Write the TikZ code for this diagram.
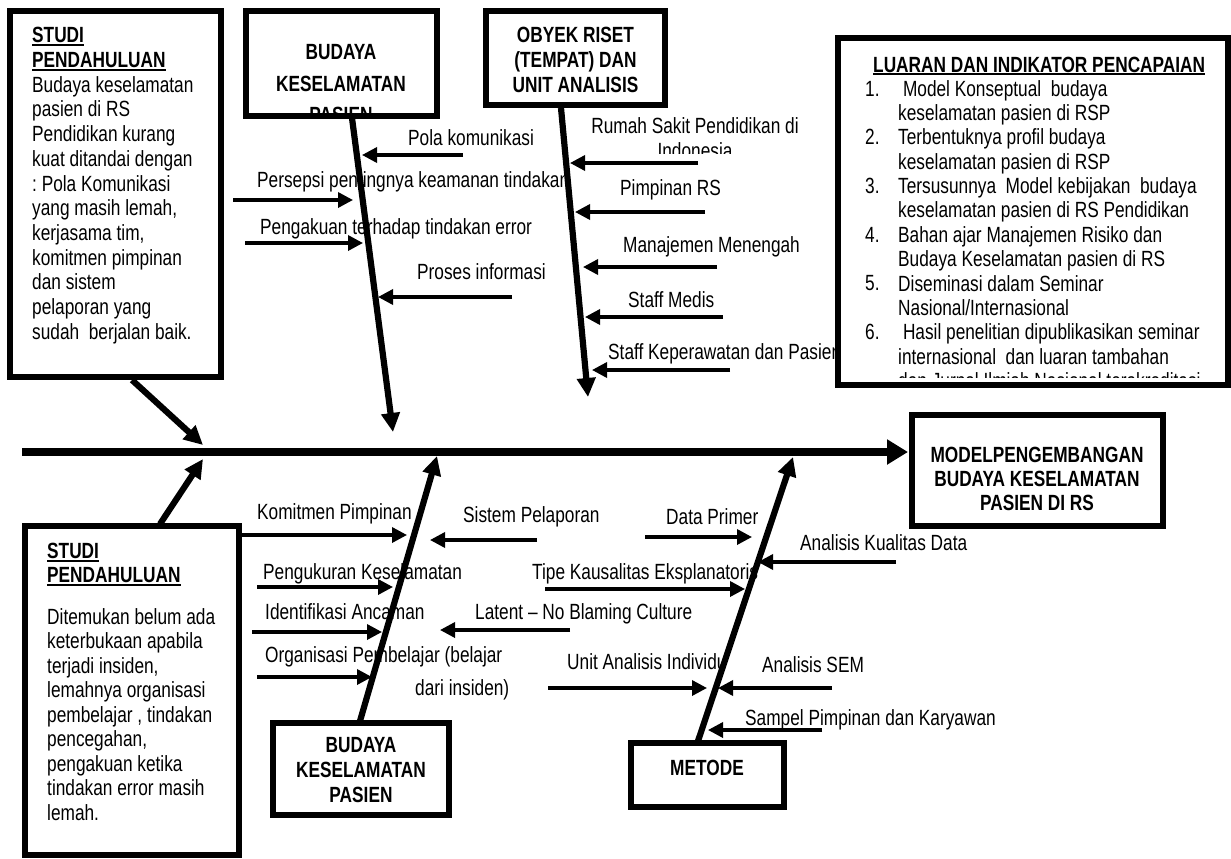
\documentclass[tikz,border=0pt]{standalone}
\usepackage{fontspec}
\setmainfont{Liberation Sans}[FakeStretch=0.785]
\usetikzlibrary{arrows.meta}
\newcommand{\myul}[1]{\setbox0\hbox{#1}\rlap{\rule[-3pt]{\wd0}{1.6pt}}\box0}
\frenchspacing
\begin{document}
\begin{tikzpicture}[x=1pt,y=-1pt,
  lbl/.style={font=\fontsize{22}{24.7}\selectfont, inner sep=0pt, anchor=base west},
  para/.style={inner sep=0pt, anchor=north west, align=left},
  ttl/.style={inner sep=0pt, anchor=north, align=center, font=\bfseries\fontsize{22}{25}\selectfont},
  box/.style={draw, line width=6.3pt, fill=white, inner sep=0pt},
  tarr/.style={line width=3.4pt, -{Triangle[length=15pt,width=15pt]}},
  sarr/.style={line width=6.2pt, -{Triangle[length=19pt,width=18pt]}},
  marr/.style={line width=8.5pt, -{Triangle[length=21pt,width=24pt]}}]
\useasboundingbox[fill=white] (0,0) rectangle (1231,859);

% ---------- labels of the bones ----------
\node[lbl] (lpola) at (408,145.5) {Pola komunikasi};
\begin{scope}
  \clip (250,160) rectangle (563,196);
  \node[lbl] (lpers) at (257,187.5) {Persepsi pentingnya keamanan tindakan};
\end{scope}
\node[lbl] (lpeng) at (260,234.5) {Pengakuan terhadap tindakan error};
\node[lbl] (lpros) at (417,279.5) {Proses informasi};
\begin{scope}
  \clip (580,110) rectangle (820,153);
  \node[inner sep=0pt, anchor=north, align=center, font=\fontsize{22}{25}\selectfont] (lrs) at (695,117.5) {Rumah Sakit Pendidikan di\\Indonesia};
\end{scope}
\node[lbl] (lpim) at (620,195.5) {Pimpinan RS};
\node[lbl] (lman) at (623,252.5) {Manajemen Menengah};
\node[lbl] (lmed) at (628,307.5) {Staff Medis};
\node[lbl] (lkep) at (608,359.5) {Staff Keperawatan dan Pasien};

\node[lbl] (lkom) at (257,519.5) {Komitmen Pimpinan};
\node[lbl] (lukur) at (263,579.5) {Pengukuran Keselamatan};
\node[lbl] (lident) at (265,619.5) {Identifikasi Ancaman};
\node[lbl] (lorg) at (265,662.5) {Organisasi Pembelajar (belajar};
\node[lbl] (lorg2) at (415,695) {dari insiden)};
\node[lbl] (lsis) at (463,522.5) {Sistem Pelaporan};
\node[lbl] (llat) at (475,619.5) {Latent -- No Blaming Culture};
\node[lbl] (ldata) at (666,524.5) {Data Primer};
\node[lbl] (ltipe) at (532,579.5) {Tipe Kausalitas Eksplanatoris};
\begin{scope}
  \clip (560,640) rectangle (727,680);
  \node[lbl] (lunit) at (567,669.5) {Unit Analisis Individu};
\end{scope}
\node[lbl] (lsem) at (762,672.5) {Analisis SEM};
\node[lbl] (lsamp) at (745,725.5) {Sampel Pimpinan dan Karyawan};
\node[lbl] (lkual) at (800,550.5) {Analisis Kualitas Data};

% ---------- boxes ----------
\node[box, minimum width=211pt, minimum height=366pt] (b1) at (115.5,194) {};
\node[box, minimum width=191pt, minimum height=105pt] (b2) at (341.5,63.5) {};
\node[box, minimum width=179pt, minimum height=94pt] (b3) at (575.5,58) {};
\node[box, minimum width=390pt, minimum height=347pt] (bl) at (1033,211.5) {};
\node[box, minimum width=251pt, minimum height=111pt] (bm) at (1037.5,470.5) {};
\node[box, minimum width=214pt, minimum height=329pt] (b4) at (132,690.5) {};
\node[box, minimum width=176pt, minimum height=92pt] (b5) at (361,769) {};
\node[box, minimum width=153pt, minimum height=64pt] (b6) at (707.5,775) {};

% ---------- box texts ----------
\node[para, font=\fontsize{22}{24.7}\selectfont] (t1) at (32,27.25)
 {\myul{\textbf{STUDI}}\\\myul{\textbf{PENDAHULUAN}}\\Budaya keselamatan\\pasien di RS\\Pendidikan kurang\\kuat ditandai dengan\\: Pola Komunikasi\\yang masih lemah,\\kerjasama tim,\\komitmen pimpinan\\dan sistem\\pelaporan yang\\sudah\ \ berjalan baik.};
\begin{scope}
  \clip (248.75,13.75) rectangle (434.25,113.25);
  \node[ttl, font=\bfseries\fontsize{22}{31.7}\selectfont] (t2) at (341,44.25) {BUDAYA\\KESELAMATAN\\PASIEN};
\end{scope}
\node[ttl] (t3) at (575.5,26.75) {OBYEK RISET\\(TEMPAT) DAN\\UNIT ANALISIS};
\node[lbl] (tlt) at (873,72) {\myul{\textbf{LUARAN DAN INDIKATOR PENCAPAIAN}}};
\node[lbl] (n1) at (865,96) {1.};
\node[lbl] (n2) at (865,144.7) {2.};
\node[lbl] (n3) at (865,193.4) {3.};
\node[lbl] (n4) at (865,242.2) {4.};
\node[lbl] (n5) at (865,290.9) {5.};
\node[lbl] (n6) at (865,339.6) {6.};
\begin{scope}
  \clip (840.75,40.75) rectangle (1225.25,377.5);
  \node[para, font=\fontsize{22}{24.36}\selectfont] (tl) at (898,80)
   {\hspace*{4.8pt}Model Konseptual\ \ budaya\\keselamatan pasien di RSP\\Terbentuknya profil budaya\\keselamatan pasien di RSP\\Tersusunnya\ \ Model kebijakan\ \ budaya\\keselamatan pasien di RS Pendidikan\\Bahan ajar Manajemen Risiko dan\\Budaya Keselamatan pasien di RS\\Diseminasi dalam Seminar\\Nasional/Internasional\\\hspace*{4.8pt}Hasil penelitian dipublikasikan seminar\\internasional\ \ dan luaran tambahan\\dan Jurnal Ilmiah Nasional terakreditasi};
\end{scope}
\node[ttl, font=\bfseries\fontsize{22}{24}\selectfont] (tm) at (1037,447.25) {MODELPENGEMBANGAN\\BUDAYA KESELAMATAN\\PASIEN DI RS};
\node[para, font=\bfseries\fontsize{22}{24}\selectfont] (t4a) at (47,543.25) {\myul{STUDI}\\\myul{PENDAHULUAN}};
\node[para, font=\fontsize{22}{24.5}\selectfont] (t4b) at (47,608)
 {Ditemukan belum ada\\keterbukaan apabila\\terjadi insiden,\\lemahnya organisasi\\pembelajar , tindakan\\pencegahan,\\pengakuan ketika\\tindakan error masih\\lemah.};
\node[ttl] (t5) at (361,737.25) {BUDAYA\\KESELAMATAN\\PASIEN};
\node[inner sep=0pt, anchor=base, font=\bfseries\fontsize{22}{25}\selectfont] (t6) at (707,775) {METODE};

% ---------- coordinates ----------
\coordinate (m0) at (22,452);   \coordinate (m1) at (908,452);
\coordinate (s1a) at (352,118); \coordinate (s1b) at (393,432);
\coordinate (s2a) at (561,108); \coordinate (s2b) at (588,397);
\coordinate (s3a) at (360,721); \coordinate (s3b) at (437,456);
\coordinate (s4a) at (698,741); \coordinate (s4b) at (793,457);
\coordinate (ta) at (132,380);  \coordinate (tb) at (203,445);
\coordinate (ba) at (160,524);  \coordinate (bb) at (203,459);

\coordinate (a1s) at (463,155); \coordinate (a1e) at (362,155);
\coordinate (a2s) at (233,200); \coordinate (a2e) at (353,200);
\coordinate (a3s) at (245,243); \coordinate (a3e) at (363,243);
\coordinate (a4s) at (512,297); \coordinate (a4e) at (378,297);
\coordinate (b1s) at (698,163); \coordinate (b1e) at (570,163);
\coordinate (b2s) at (705,212); \coordinate (b2e) at (575,212);
\coordinate (b3s) at (717,267); \coordinate (b3e) at (583,267);
\coordinate (b4s) at (723,317); \coordinate (b4e) at (585,317);
\coordinate (b5s) at (730,370); \coordinate (b5e) at (592,370);
\coordinate (c1s) at (242,535); \coordinate (c1e) at (407,535);
\coordinate (c2s) at (257,587); \coordinate (c2e) at (393,587);
\coordinate (c3s) at (252,632); \coordinate (c3e) at (382,632);
\coordinate (c4s) at (257,677); \coordinate (c4e) at (372,677);
\coordinate (c5s) at (537,540); \coordinate (c5e) at (430,540);
\coordinate (c6s) at (570,630); \coordinate (c6e) at (440,630);
\coordinate (d1s) at (645,537); \coordinate (d1e) at (752,537);
\coordinate (d2s) at (545,589); \coordinate (d2e) at (745,589);
\coordinate (d3s) at (548,688); \coordinate (d3e) at (707,688);
\coordinate (d4s) at (832,688); \coordinate (d4e) at (718,688);
\coordinate (d5s) at (822,730); \coordinate (d5e) at (708,730);
\coordinate (d6s) at (896,562); \coordinate (d6e) at (758,562);

% ---------- small arrows ----------
\foreach \p in {a1,a2,a3,a4,b1,b2,b3,b4,b5,c1,c2,c3,c4,c5,c6,d1,d2,d3,d4,d5,d6}
  \draw[tarr] (\p s) -- (\p e);

% ---------- bones and spine ----------
\draw[sarr] (s1a) -- (s1b);
\draw[sarr] (s2a) -- (s2b);
\draw[sarr] (s3a) -- (s3b);
\draw[sarr] (s4a) -- (s4b);
\draw[sarr] (ta) -- (tb);
\draw[sarr] (ba) -- (bb);
\draw[marr] (m0) -- (m1);
\end{tikzpicture}
\end{document}
